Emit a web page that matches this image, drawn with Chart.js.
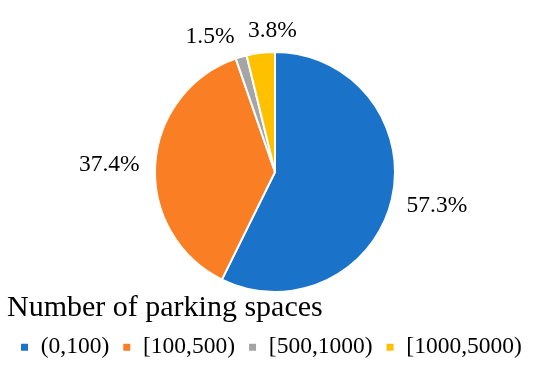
<!DOCTYPE html>
<html>
<head>
<meta charset="utf-8">
<script src="https://cdn.jsdelivr.net/npm/chart.js@4"></script>
<style>
  html, body { margin: 0; padding: 0; background: #fff; }
  #wrap { width: 550px; height: 378px; }
</style>
</head>
<body>
<div id="wrap"><canvas id="pieCanvas"></canvas></div>
<script>
// Parking spaces share
const categories = ["(0,100)", "[100,500)", "[500,1000)", "[1000,5000)"];
const shares = [57.3, 37.4, 1.5, 3.8];
const sliceColors = ["#1a73c9", "#f97e24", "#a5a5a5", "#ffc000"];
// label nudges (px) to sit where Excel put them
const labelNudge = [[10, -2], [-10, 3], [-21, 14], [16, 14]];

const serif = "'Liberation Serif', 'Times New Roman', serif";

// draws the % labels outside each slice
const outsideLabels = {
    id: "outsideLabels",
    afterDatasetsDraw(chart) {
        const ctx = chart.ctx;
        const meta = chart.getDatasetMeta(0);
        ctx.save();
        ctx.font = "23.5px " + serif;
        ctx.fillStyle = "#000";
        ctx.textAlign = "center";
        ctx.textBaseline = "middle";
        meta.data.forEach((arc, i) => {
            const p = arc.getProps(["x", "y", "startAngle", "endAngle", "outerRadius"], true);
            const mid = (p.startAngle + p.endAngle) / 2;
            const r = p.outerRadius + 36;
            const x = p.x + Math.cos(mid) * r + labelNudge[i][0];
            const y = p.y + Math.sin(mid) * r + labelNudge[i][1];
            ctx.fillText(shares[i].toFixed(1) + "%", x, y);
        });
        ctx.restore();
    }
};

const pieChart = new Chart(document.getElementById("pieCanvas"), {
    type: "pie",
    data: {
        labels: categories,
        datasets: [
            {
                data: shares,
                backgroundColor: sliceColors,
                borderColor: "#fff",
                borderWidth: 2,
            },
        ],
    },
    options: {
        responsive: true,
        maintainAspectRatio: false,
        animation: false,
        layout: {
            padding: { top: 51, left: 7, right: 7, bottom: 9 }
        },
        plugins: {
            tooltip: { enabled: false },
            title: {
                display: true,
                text: "Number of parking spaces",
                position: "bottom",
                align: "start",
                weight: 500,
                color: "#000",
                padding: { top: 1, bottom: 0 },
                font: { family: serif, size: 30, weight: "normal", lineHeight: 0.95 }
            },
            legend: {
                display: true,
                position: "bottom",
                align: "start",
                labels: {
                    boxWidth: 9,
                    boxHeight: 9,
                    padding: 13,
                    color: "#000",
                    font: { family: serif, size: 23.5 }
                }
            }
        }
    },
    plugins: [outsideLabels]
});
</script>
</body>
</html>
